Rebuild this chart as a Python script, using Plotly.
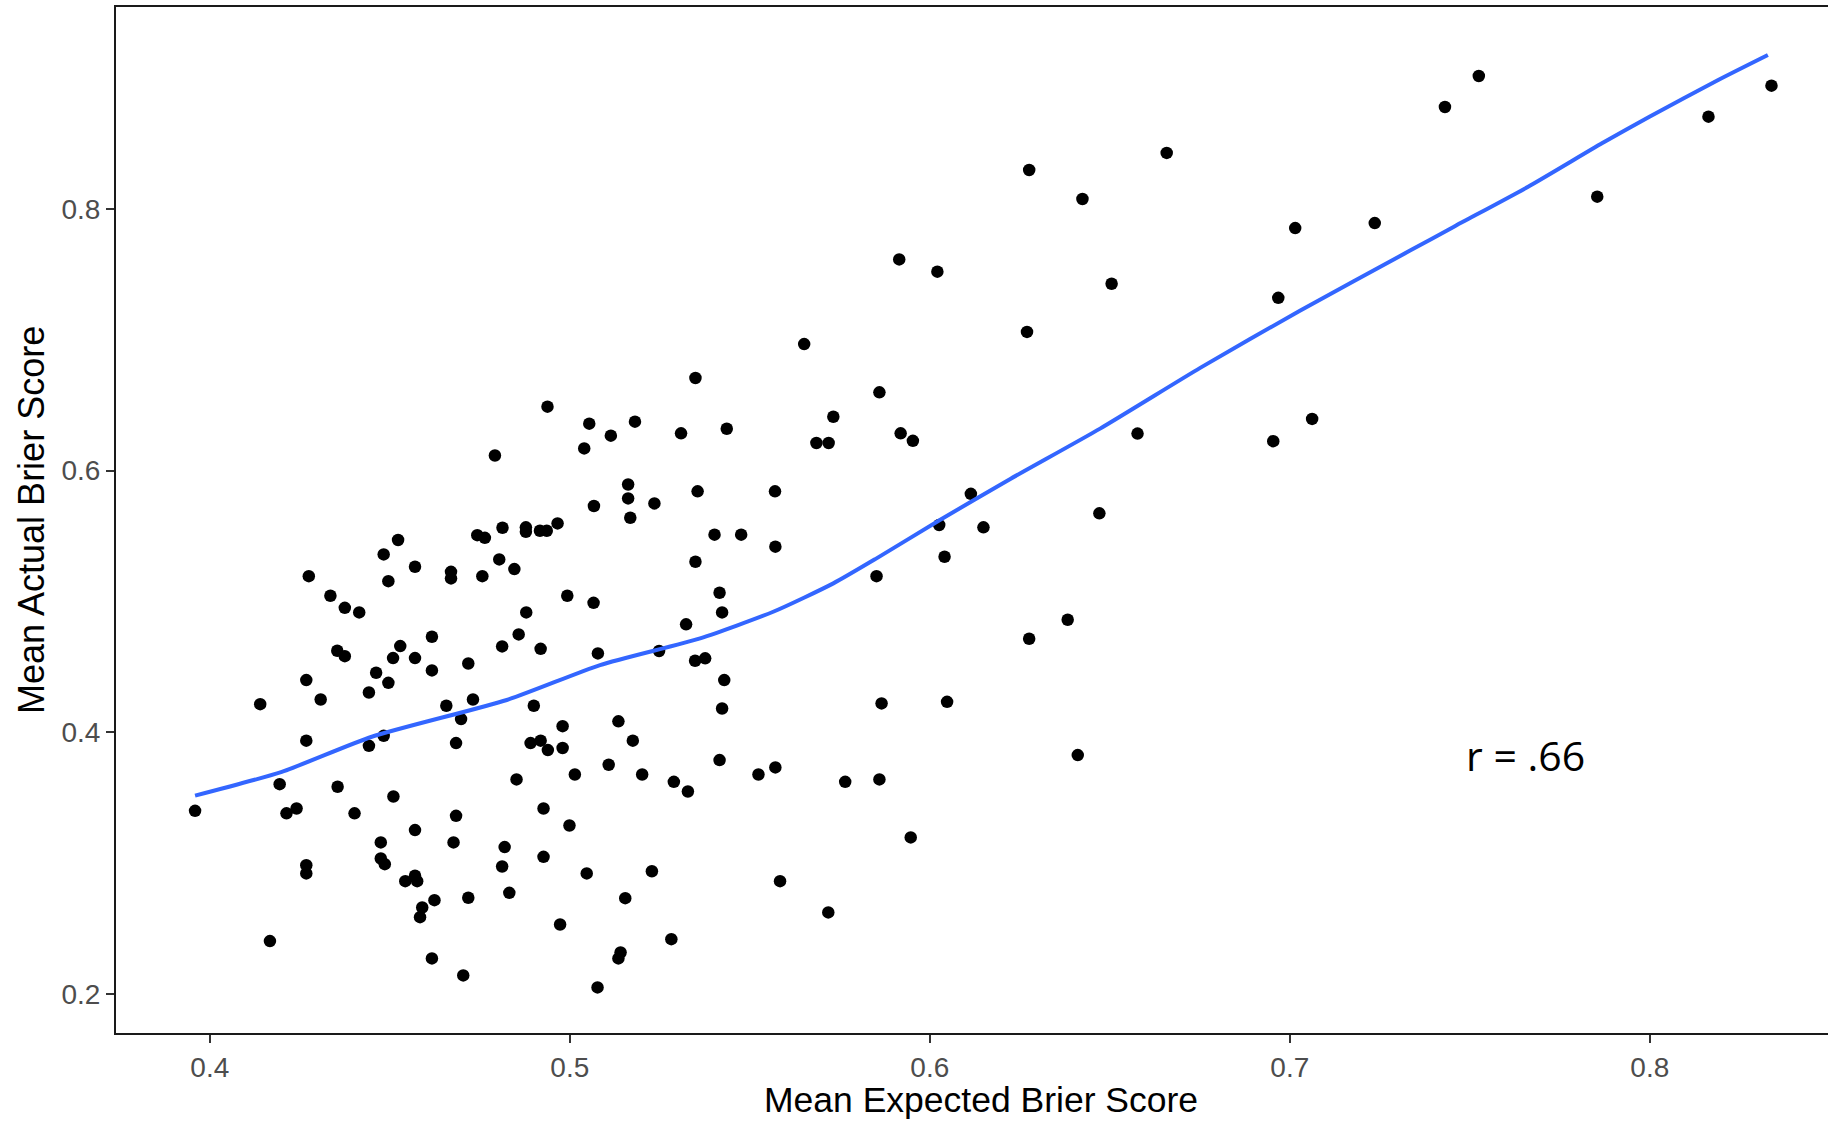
import plotly.graph_objects as go

# Mean Expected Brier Score (x) and Mean Actual Brier Score (y) per participant
expected = [
    0.3959, 0.4140, 0.4167, 0.4194, 0.4213, 0.4241, 0.4275, 0.4268, 0.4268, 0.4268,
    0.4268, 0.4308, 0.4335, 0.4355, 0.4354, 0.4375, 0.4375, 0.4402, 0.4415, 0.4442,
    0.4442, 0.4462, 0.4475, 0.4475, 0.4486, 0.4483, 0.4483, 0.4496, 0.4496, 0.4510,
    0.4509, 0.4523, 0.4529, 0.4543, 0.4570, 0.4570, 0.4570, 0.4570, 0.4576, 0.4584,
    0.4590, 0.4617, 0.4617, 0.4617, 0.4624, 0.4657, 0.4670, 0.4670, 0.4677, 0.4684,
    0.4684, 0.4698, 0.4704, 0.4718, 0.4718, 0.4731, 0.4743, 0.4764, 0.4757, 0.4792,
    0.4804, 0.4812, 0.4813, 0.4812, 0.4819, 0.4832, 0.4846, 0.4852, 0.4858, 0.4878,
    0.4879, 0.4900, 0.4891, 0.4878, 0.4917, 0.4919, 0.4927, 0.4919, 0.4936, 0.4939,
    0.4927, 0.4938, 0.4966, 0.4973, 0.4980, 0.4980, 0.4993, 0.4999, 0.5014, 0.5040,
    0.5047, 0.5054, 0.5067, 0.5066, 0.5078, 0.5077, 0.5108, 0.5114, 0.5135, 0.5141,
    0.5135, 0.5154, 0.5162, 0.5162, 0.5168, 0.5175, 0.5181, 0.5201, 0.5228, 0.5235,
    0.5248, 0.5282, 0.5289, 0.5309, 0.5323, 0.5328, 0.5349, 0.5349, 0.5355, 0.5348,
    0.5376, 0.5402, 0.5416, 0.5423, 0.5416, 0.5429, 0.5423, 0.5436, 0.5476, 0.5524,
    0.5570, 0.5571, 0.5571, 0.5584, 0.5651, 0.5685, 0.5719, 0.5718, 0.5732, 0.5765,
    0.5852, 0.5860, 0.5860, 0.5866, 0.5915, 0.5919, 0.5947, 0.5953, 0.6021, 0.6026,
    0.6041, 0.6048, 0.6114, 0.6149, 0.6270, 0.6276, 0.6276, 0.6383, 0.6411, 0.6424,
    0.6471, 0.6505, 0.6577, 0.6658, 0.6954, 0.6968, 0.7015, 0.7062, 0.7236, 0.7431,
    0.7525, 0.7854, 0.8163, 0.8338,
]
actual = [
    0.3400, 0.4215, 0.2405, 0.3604, 0.3381, 0.3418, 0.5193, 0.4399, 0.3936, 0.2985,
    0.2922, 0.4251, 0.5043, 0.3584, 0.4623, 0.4951, 0.4582, 0.3381, 0.4916, 0.4304,
    0.3897, 0.4455, 0.3159, 0.3036, 0.2993, 0.5359, 0.3973, 0.4378, 0.5155, 0.3510,
    0.4567, 0.5469, 0.4659, 0.2863, 0.5265, 0.3253, 0.4567, 0.2904, 0.2863, 0.2588,
    0.2662, 0.2273, 0.4730, 0.4473, 0.2718, 0.4203, 0.5226, 0.5176, 0.3159, 0.3362,
    0.3918, 0.4101, 0.2143, 0.2736, 0.4526, 0.4251, 0.5506, 0.5486, 0.5193, 0.6115,
    0.5321, 0.4656, 0.5563, 0.2975, 0.3123, 0.2774, 0.5247, 0.3640, 0.4748, 0.5566,
    0.4916, 0.4203, 0.3918, 0.5532, 0.5540, 0.4638, 0.3049, 0.3936, 0.5540, 0.3864,
    0.3418, 0.6488, 0.5596, 0.2532, 0.4047, 0.3880, 0.5043, 0.3288, 0.3678, 0.6169,
    0.2922, 0.6358, 0.5729, 0.4989, 0.4603, 0.2051, 0.3752, 0.6266, 0.4084, 0.2318,
    0.2273, 0.2733, 0.5893, 0.5787, 0.5639, 0.3936, 0.6373, 0.3678, 0.2939, 0.5749,
    0.4621, 0.2420, 0.3622, 0.6284, 0.4825, 0.3548, 0.6707, 0.5303, 0.5841, 0.4547,
    0.4565, 0.5510, 0.5066, 0.4916, 0.3788, 0.4399, 0.4182, 0.6319, 0.5510, 0.3678,
    0.5841, 0.5418, 0.3732, 0.2863, 0.6966, 0.6210, 0.6210, 0.2624, 0.6411, 0.3622,
    0.5193, 0.6597, 0.3640, 0.4221, 0.7613, 0.6284, 0.3197, 0.6227, 0.7519, 0.5584,
    0.5341, 0.4233, 0.5822, 0.5566, 0.7059, 0.4715, 0.8296, 0.4860, 0.3826, 0.8074,
    0.5673, 0.7427, 0.6282, 0.8426, 0.6224, 0.7319, 0.7852, 0.6394, 0.7890, 0.8777,
    0.9014, 0.8092, 0.8703, 0.8940,
]

# LOESS smooth
smooth_x = [0.3959, 0.4200, 0.4450, 0.4825, 0.5084, 0.5362, 0.5565, 0.5732, 0.5852,
            0.6028, 0.6220, 0.6473, 0.6751, 0.7028, 0.7334, 0.7456, 0.7662, 0.7867,
            0.7999, 0.8190, 0.8328]
smooth_y = [0.3516, 0.3698, 0.3966, 0.4247, 0.4514, 0.4718, 0.4921, 0.5138, 0.5329,
            0.5622, 0.5930, 0.6320, 0.6784, 0.7221, 0.7680, 0.7863, 0.8168, 0.8500,
            0.8703, 0.8983, 0.9174]

x_ticks = [0.4, 0.5, 0.6, 0.7, 0.8]
x_ticktext = ["0.4", "0.5", "0.6", "0.7", "0.8"]
y_ticks = [0.2, 0.4, 0.6, 0.8]
y_ticktext = ["0.2", "0.4", "0.6", "0.8"]

x_title = "Mean Expected Brier Score"
y_title = "Mean Actual Brier Score"
r_label = "r = .66"

fig = go.Figure()
fig.add_trace(go.Scatter(
    x=expected, y=actual, mode="markers",
    marker=dict(color="black", size=12.5, line=dict(width=0)),
    showlegend=False, hoverinfo="x+y",
))
fig.add_trace(go.Scatter(
    x=smooth_x, y=smooth_y, mode="lines",
    line=dict(color="#3366FF", width=4, shape="spline", smoothing=0.6),
    showlegend=False, hoverinfo="skip",
))

tick_font = dict(family="Liberation Sans, Arial, sans-serif", size=28, color="#4D4D4D")
title_font_x = dict(family="Liberation Sans, Arial, sans-serif", size=35.5, color="black")
title_font_y = dict(family="Liberation Sans, Arial, sans-serif", size=36, color="black")

fig.update_layout(
    width=1828, height=1121,
    margin=dict(l=116, r=0, t=7, b=88, pad=0),
    paper_bgcolor="white", plot_bgcolor="white",
    xaxis=dict(
        range=[0.37394, 0.8495], tickvals=x_ticks, ticktext=x_ticktext,
        ticks="outside", ticklen=8, tickwidth=2, tickcolor="#333333",
        showline=True, linecolor="#1a1a1a", linewidth=2, mirror=True,
        showgrid=False, zeroline=False, tickfont=tick_font,
    ),
    yaxis=dict(
        range=[0.1703, 0.9541], tickvals=y_ticks, ticktext=y_ticktext,
        ticks="outside", ticklen=8, tickwidth=2, tickcolor="#333333",
        showline=True, linecolor="#1a1a1a", linewidth=2,
        showgrid=False, zeroline=False, tickfont=tick_font,
    ),
    annotations=[
        dict(text=x_title, xref="x", yref="paper", x=0.6142, y=0,
             xanchor="center", yanchor="middle", yshift=-67,
             showarrow=False, font=title_font_x),
        dict(text=y_title, xref="paper", yref="y", x=0, y=0.5622,
             xanchor="center", yanchor="middle", xshift=-85,
             textangle=-90, showarrow=False, font=title_font_y),
        dict(text=r_label, xref="x", yref="y", x=0.7656, y=0.3827,
             xanchor="center", yanchor="middle", showarrow=False,
             font=dict(family="Open Sans, sans-serif", size=41, color="black")),
    ],
)

fig.write_html("out.html")
